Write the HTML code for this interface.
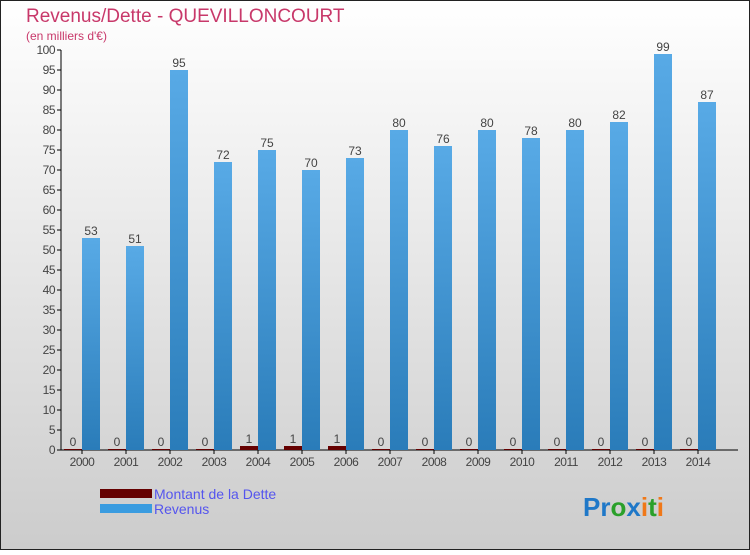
<!DOCTYPE html>
<html><head><meta charset="utf-8"><style>
html,body{margin:0;padding:0}
body{width:750px;height:550px;overflow:hidden;font-family:"Liberation Sans",sans-serif}
</style></head><body>
<svg id="chart" width="750" height="550" xmlns="http://www.w3.org/2000/svg">
<defs>
<linearGradient id="bg" x1="0" y1="0" x2="0" y2="1"><stop offset="0" stop-color="#ffffff"/><stop offset="1" stop-color="#cccccc"/></linearGradient>
<linearGradient id="rev" x1="0" y1="0" x2="0" y2="1"><stop offset="0" stop-color="#58aae6"/><stop offset="1" stop-color="#2a7cb9"/></linearGradient>
</defs>
<rect x="0.5" y="0.5" width="749" height="549" fill="url(#bg)" stroke="#222"/>
<text x="26" y="22" font-size="19" fill="#c8386a">Revenus/Dette - QUEVILLONCOURT</text>
<text x="26" y="40" font-size="12" fill="#c8386a">(en milliers d'€)</text>
<g id="axes"></g>
<g id="bars"></g>
<g>
<rect x="100" y="489" width="52" height="9" fill="#650000"/>
<text x="154" y="499" font-size="14" fill="#5555ee">Montant de la Dette</text>
<rect x="100" y="504" width="52" height="9" fill="#3a9ce0"/>
<text x="154" y="514" font-size="14" fill="#5555ee">Revenus</text>
</g>
<text x="583" y="516" font-size="26" font-weight="bold"><tspan fill="#1f78c8">Pr</tspan><tspan fill="#2aa02a">o</tspan><tspan fill="#1f78c8">x</tspan><tspan fill="#f07818">i</tspan><tspan fill="#2aa02a">t</tspan><tspan fill="#f07818">i</tspan></text>
</svg>
<script>
const years=["2000","2001","2002","2003","2004","2005","2006","2007","2008","2009","2010","2011","2012","2013","2014"];
const revenus=[53,51,95,72,75,70,73,80,76,80,78,80,82,99,87];
const dette=[0,0,0,0,1,1,1,0,0,0,0,0,0,0,0];
const yTicks=[0,5,10,15,20,25,30,35,40,45,50,55,60,65,70,75,80,85,90,95,100];
const NS="http://www.w3.org/2000/svg";
const y=v=>450-v*4;
const x=i=>82+i*44;
function mk(tag,attrs,parent,txt){const e=document.createElementNS(NS,tag);for(const k in attrs)e.setAttribute(k,attrs[k]);if(txt!==undefined)e.textContent=txt;parent.appendChild(e);return e;}
const axes=document.getElementById('axes'),bars=document.getElementById('bars');
const ya=mk('line',{x1:61,y1:50,x2:61,y2:450,stroke:'#000'},axes);


const xa=mk('line',{x1:61,y1:450,x2:738,y2:450,stroke:'#000'},axes);


yTicks.forEach(t=>{
 mk('line',{x1:57,y1:y(t),x2:61,y2:y(t),stroke:'#000'},axes);
 const l=mk('text',{x:55,y:y(t)+4,'font-size':12,fill:'#444','text-anchor':'end','letter-spacing':'-0.5'},axes,String(t));
 
 
});
years.forEach((yr,i)=>{
 mk('line',{x1:x(i),y1:450,x2:x(i),y2:454,stroke:'#000'},axes);
 const l=mk('text',{x:x(i),y:466,'font-size':12,fill:'#444','text-anchor':'middle','letter-spacing':'-0.5'},axes,yr);
 
 
 const dh=Math.max(dette[i]*4,1);
 const d=mk('rect',{x:x(i)-18,y:450-dh,width:18,height:dh,fill:'#650000'},bars);
 
 
 const dl=mk('text',{x:x(i)-9,y:450-dh-3,'font-size':12,fill:'#444','text-anchor':'middle'},bars,String(dette[i]));
 
 
 const r=mk('rect',{x:x(i),y:y(revenus[i]),width:18,height:revenus[i]*4,fill:'url(#rev)'},bars);
 
 
 const rl=mk('text',{x:x(i)+9,y:y(revenus[i])-3,'font-size':12,fill:'#444','text-anchor':'middle'},bars,String(revenus[i]));
 
 
});
</script>
</body></html>
